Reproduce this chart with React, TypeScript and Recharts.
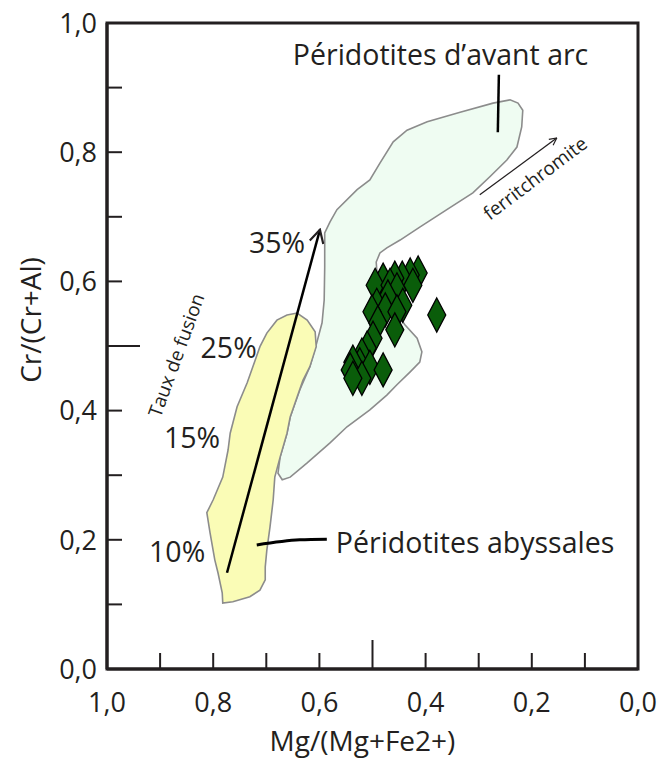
import React from 'react';
import { ScatterChart, Scatter, XAxis, YAxis, ReferenceArea } from 'recharts';

const FONT = '"Open Sans", "Noto Sans", sans-serif';
const INK = '#231f20';

// axis ticks
const xTicks = [1.0, 0.9, 0.8, 0.7, 0.6, 0.5, 0.4, 0.3, 0.2, 0.1, 0.0];
const yTicks = [0.0, 0.1, 0.2, 0.3, 0.4, 0.5, 0.6, 0.7, 0.8, 0.9, 1.0];

// fore-arc peridotite field, [Mg#, Cr#]
const foreArcField = [
  [0.670, 0.293], [0.678, 0.303], [0.674, 0.328], [0.661, 0.365], [0.655, 0.390],
  [0.637, 0.432], [0.618, 0.468], [0.605, 0.505], [0.595, 0.536], [0.591, 0.571],
  [0.590, 0.622], [0.590, 0.675], [0.580, 0.692], [0.567, 0.711], [0.529, 0.742],
  [0.505, 0.757], [0.486, 0.783], [0.461, 0.816], [0.435, 0.834], [0.397, 0.847],
  [0.335, 0.862], [0.273, 0.876], [0.241, 0.881], [0.226, 0.876], [0.217, 0.865],
  [0.219, 0.839], [0.228, 0.808], [0.247, 0.788], [0.279, 0.762], [0.311, 0.737],
  [0.360, 0.711], [0.411, 0.684], [0.448, 0.664], [0.473, 0.652], [0.486, 0.644],
  [0.493, 0.630], [0.490, 0.594], [0.467, 0.564], [0.439, 0.533], [0.416, 0.512],
  [0.407, 0.491], [0.411, 0.475], [0.429, 0.460], [0.454, 0.440], [0.473, 0.424],
  [0.505, 0.401], [0.548, 0.375], [0.580, 0.350], [0.623, 0.319], [0.655, 0.297],
];

// abyssal peridotite field
const abyssalField = [
  [0.661, 0.548], [0.642, 0.551], [0.623, 0.540], [0.608, 0.522], [0.606, 0.499],
  [0.618, 0.468], [0.631, 0.447], [0.642, 0.421], [0.655, 0.390], [0.661, 0.365],
  [0.674, 0.328], [0.684, 0.297], [0.687, 0.262], [0.693, 0.220], [0.699, 0.184],
  [0.702, 0.158], [0.702, 0.138], [0.712, 0.122], [0.731, 0.112], [0.763, 0.104],
  [0.782, 0.102], [0.783, 0.118], [0.791, 0.149], [0.797, 0.169], [0.806, 0.211],
  [0.812, 0.242], [0.800, 0.262], [0.782, 0.297], [0.772, 0.339], [0.768, 0.365],
  [0.755, 0.406], [0.736, 0.443], [0.721, 0.478], [0.712, 0.499], [0.699, 0.520],
  [0.680, 0.540],
];

// chromian spinels of the studied samples
const spinels = [
  [0.414, 0.613], [0.429, 0.610], [0.444, 0.605], [0.458, 0.605], [0.480, 0.602],
  [0.495, 0.594], [0.467, 0.594], [0.454, 0.587], [0.424, 0.594], [0.471, 0.576],
  [0.492, 0.563], [0.443, 0.563], [0.476, 0.556], [0.501, 0.553], [0.454, 0.553],
  [0.490, 0.536], [0.458, 0.525], [0.499, 0.512], [0.510, 0.497], [0.520, 0.486],
  [0.524, 0.471], [0.537, 0.475], [0.542, 0.463], [0.505, 0.467], [0.480, 0.463],
  [0.520, 0.450], [0.537, 0.450], [0.379, 0.548],
];

// trends and pointers
const meltingTrend = [[0.774, 0.149], [0.599, 0.680]];
const ferritTrend = [[0.298, 0.734], [0.153, 0.822]];
const foreArcPointer = [[0.262, 0.920], [0.264, 0.831]];
const abyssalPointer = [[0.718, 0.192], [0.637, 0.200], [0.586, 0.201]];

const notes = [
  { x: 0.650, y: 0.935, text: 'Péridotites d’avant arc', anchor: 'start', angle: 0, kind: 'big' },
  { x: 0.569, y: 0.180, text: 'Péridotites abyssales', anchor: 'start', angle: 0, kind: 'big' },
  { x: 0.627, y: 0.644, text: '35%', anchor: 'end', angle: 0, kind: 'big' },
  { x: 0.718, y: 0.481, text: '25%', anchor: 'end', angle: 0, kind: 'big' },
  { x: 0.787, y: 0.342, text: '15%', anchor: 'end', angle: 0, kind: 'big' },
  { x: 0.815, y: 0.166, text: '10%', anchor: 'end', angle: 0, kind: 'big' },
  { x: 0.870, y: 0.486, text: 'Taux de fusion', anchor: 'middle', angle: -70, kind: 'small' },
  { x: 0.194, y: 0.760, text: 'ferritchromite', anchor: 'middle', angle: -37, kind: 'small' },
];

const toPts = (arr: number[][]) => arr.map(([x, y]) => ({ x, y }));
const fmt = (v: number) => v.toFixed(1).replace('.', ',');
const isMajor = (v: number) => Math.round(v * 10) % 2 === 0;

const Blank = () => <g />;

const XTick = (props: any) => {
  const { x, y, payload } = props;
  const v = payload.value;
  const len = Math.abs(v - 0.5) < 1e-6 ? 29 : 16;
  return (
    <g>
      {v > 0 && v < 1 && <line x1={x} x2={x} y1={y} y2={y - len} stroke={INK} strokeWidth={2} />}
      {isMajor(v) && (
        <text x={x} y={y + 43} textAnchor="middle" fontFamily={FONT} fontSize={27} fill={INK}>
          {fmt(v)}
        </text>
      )}
    </g>
  );
};

const YTick = (props: any) => {
  const { x, y, payload } = props;
  const v = payload.value;
  const len = Math.abs(v - 0.5) < 1e-6 ? 33 : 15;
  return (
    <g>
      {v > 0 && v < 1 && <line x1={x} x2={x + len} y1={y} y2={y} stroke={INK} strokeWidth={2} />}
      {isMajor(v) && (
        <text x={x - 10} y={y} dy="0.36em" textAnchor="end" fontFamily={FONT} fontSize={27} fill={INK}>
          {fmt(v)}
        </text>
      )}
    </g>
  );
};

const XTitle = (props: any) => {
  const vb = props.viewBox;
  return (
    <text x={vb.x + vb.width / 2 - 10} y={vb.y + 82} textAnchor="middle" fontFamily={FONT} fontSize={28} fill={INK}>
      Mg/(Mg+Fe2+)
    </text>
  );
};

const YTitle = (props: any) => {
  const vb = props.viewBox;
  const cx = vb.x + 14;
  const cy = vb.y + vb.height / 2 - 26;
  return (
    <text x={cx} y={cy} transform={`rotate(-90 ${cx} ${cy})`} textAnchor="middle" dominantBaseline="central" fontFamily={FONT} fontSize={28} fill={INK}>
      Cr/(Cr+Al)
    </text>
  );
};

const Diamond = (props: any) => {
  const { cx, cy } = props;
  return (
    <polygon
      points={`${cx},${cy - 17} ${cx + 9},${cy} ${cx},${cy + 17} ${cx - 9},${cy}`}
      fill="#0a5d0a"
      stroke="#000"
      strokeWidth={1.3}
    />
  );
};

const Note = (props: any) => {
  const { cx, cy, payload } = props;
  const small = payload.kind === 'small';
  return (
    <text
      x={cx}
      y={cy}
      transform={payload.angle ? `rotate(${payload.angle} ${cx} ${cy})` : undefined}
      textAnchor={payload.anchor}
      dominantBaseline={payload.angle ? 'central' : 'alphabetic'}
      fontFamily={FONT}
      fontSize={small ? 19 : 28.5}
      fill={INK}
    >
      {payload.text}
    </text>
  );
};

export default function App() {
  return (
    <div style={{ position: 'absolute', left: 0, top: 0, width: 665, height: 762, background: '#fff' }}>
      <ScatterChart width={665} height={762} margin={{ top: 23, right: 27, bottom: 43, left: 16 }}>
        <defs>
          <marker id="headBig" viewBox="0 0 16 16" refX="14" refY="8" markerWidth="16" markerHeight="16" markerUnits="userSpaceOnUse" orient="auto">
            <path d="M1,1 L14,8 L1,15" fill="none" stroke={INK} strokeWidth="2.2" />
          </marker>
          <marker id="headSmall" viewBox="0 0 10 10" refX="9" refY="5" markerWidth="9" markerHeight="9" markerUnits="userSpaceOnUse" orient="auto">
            <path d="M1,1 L9,5 L1,9" fill="none" stroke={INK} strokeWidth="1.3" />
          </marker>
        </defs>
        <XAxis
          type="number"
          dataKey="x"
          domain={[0, 1]}
          reversed
          ticks={xTicks}
          interval={0}
          tickSize={0}
          tickMargin={0}
          tickLine={false}
          tick={<XTick />}
          axisLine={{ stroke: INK, strokeWidth: 3 }}
          height={50}
          label={XTitle}
        />
        <YAxis
          type="number"
          dataKey="y"
          domain={[0, 1]}
          ticks={yTicks}
          interval={0}
          tickSize={0}
          tickMargin={0}
          tickLine={false}
          tick={<YTick />}
          axisLine={{ stroke: INK, strokeWidth: 3 }}
          width={91}
          label={YTitle}
        />
        <ReferenceArea x1={0} x2={1} y1={0} y2={1} fill="none" stroke={INK} strokeWidth={3} />
        <Scatter
          data={toPts(foreArcField)}
          shape={Blank}
          line={{ stroke: '#8c8c8c', strokeWidth: 1.6, fill: '#effcf2' }}
          lineJointType="linearClosed"
          isAnimationActive={false}
        />
        <Scatter
          data={toPts(abyssalField)}
          shape={Blank}
          line={{ stroke: '#8c8c8c', strokeWidth: 1.6, fill: '#fafcb6' }}
          lineJointType="linearClosed"
          isAnimationActive={false}
        />
        <Scatter
          data={toPts(meltingTrend)}
          shape={Blank}
          line={{ stroke: '#000', strokeWidth: 2.5, fill: 'none', markerEnd: 'url(#headBig)' }}
          isAnimationActive={false}
        />
        <Scatter
          data={toPts(ferritTrend)}
          shape={Blank}
          line={{ stroke: INK, strokeWidth: 1.3, fill: 'none', markerEnd: 'url(#headSmall)' }}
          isAnimationActive={false}
        />
        <Scatter
          data={toPts(foreArcPointer)}
          shape={Blank}
          line={{ stroke: '#000', strokeWidth: 2.5, fill: 'none' }}
          isAnimationActive={false}
        />
        <Scatter
          data={toPts(abyssalPointer)}
          shape={Blank}
          line={{ stroke: '#000', strokeWidth: 3, fill: 'none' }}
          lineJointType="monotoneX"
          isAnimationActive={false}
        />
        <Scatter data={toPts(spinels)} shape={Diamond} isAnimationActive={false} />
        <Scatter data={notes} shape={Note} isAnimationActive={false} />
      </ScatterChart>
    </div>
  );
}
